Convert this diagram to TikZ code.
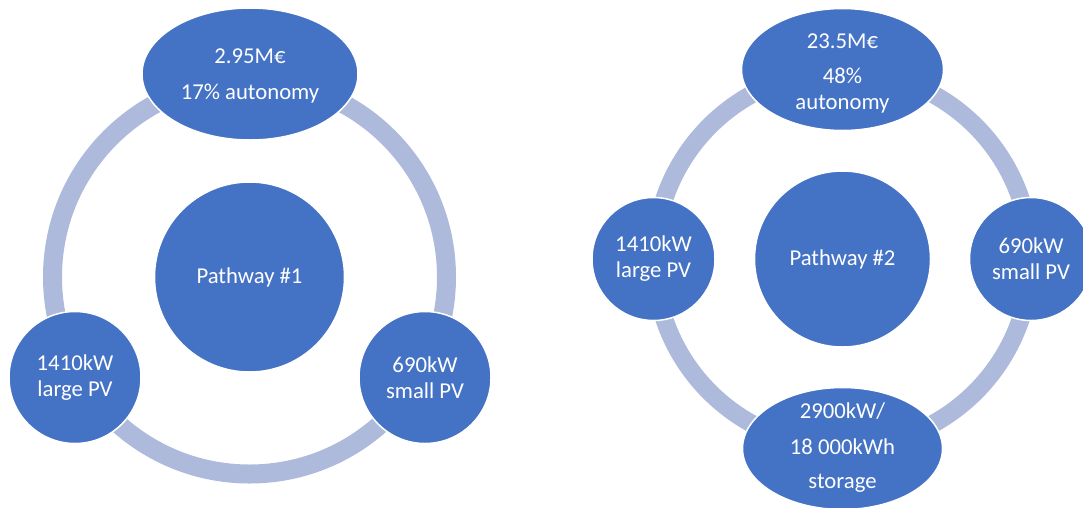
\documentclass[tikz,border=0pt]{standalone}
\usepackage{fontspec}
\setmainfont{Carlito}
\usetikzlibrary{shapes.geometric}
\definecolor{nodeblue}{HTML}{4472C4}
\definecolor{ringblue}{HTML}{AEBADC}
\begin{document}
\begin{tikzpicture}[x=1pt,y=-1pt,
  bubble/.style={circle, fill=nodeblue, draw=white, line width=1.5pt, inner sep=0pt},
  oval/.style={ellipse, fill=nodeblue, draw=white, line width=1.5pt, inner sep=0pt},
  txt/.style={text=white, align=center, font=\fontsize{22.7pt}{26pt}\selectfont, inner sep=0pt},
  ring/.style={draw=ringblue, line width=19pt}]
\useasboundingbox (0,0) rectangle (1083,507);
% ---------- Pathway 1 ----------
\coordinate (c1) at (249.5,277);
\draw[ring] (c1) circle[radius=197pt];
\node[bubble, txt, minimum size=190pt] (p1) at (c1) {Pathway \#1};
\node[oval, minimum width=216pt, minimum height=132pt] (a1) at (250,74) {};
\node[txt] (a1t) at (250,76) {2.95M€\\[10pt]17\% autonomy};
\node[bubble, txt, minimum size=132pt] (b1) at (75,377.5) {1410kW\\large PV};
\node[bubble, txt, minimum size=132pt] (d1) at (425,377.5) {690kW\\small PV};
% ---------- Pathway 2 ----------
\coordinate (c2) at (842.5,259);
\draw[ring, line width=18pt] (c2) circle[radius=188pt];
\node[bubble, txt, minimum size=176pt] (p2) at (c2) {Pathway \#2};
\node[oval, minimum width=202pt, minimum height=122pt] (a2) at (842.5,69.5) {};
\node[txt] (a2t) at (842.5,73) {23.5M€\\[9pt]48\%\\autonomy};
\node[bubble, txt, minimum size=123pt] (b2) at (653.5,259) {1410kW\\large PV};
\node[bubble, txt, minimum size=123pt] (d2) at (1031,259) {690kW\\small PV};
\node[oval, minimum width=200pt, minimum height=122pt] (e2) at (842.5,448.5) {};
\node[txt] (e2t) at (842.5,448) {2900kW/\\[10pt]18 000kWh\\[8pt]storage};
\end{tikzpicture}
\end{document}
